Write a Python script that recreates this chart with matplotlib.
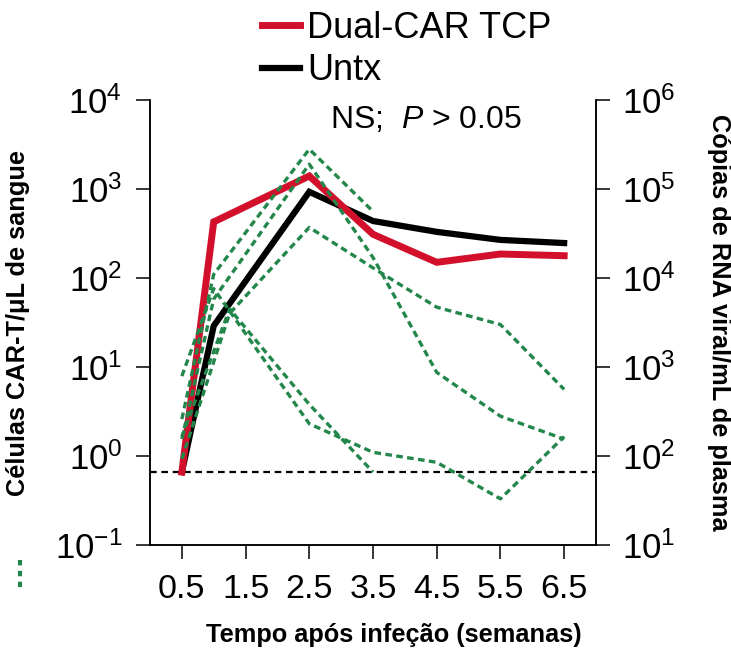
import matplotlib.pyplot as plt
from matplotlib.lines import Line2D

# === CONFIG ===
OUT_FILE = "out.png"
RED = "#d2102c"
GREEN = "#23874b"

plt.rcParams["font.family"] = ["Liberation Sans", "DejaVu Sans"]
plt.rcParams["mathtext.fontset"] = "custom"
plt.rcParams["mathtext.rm"] = "Liberation Sans"
plt.rcParams["mathtext.it"] = "Liberation Sans:italic"
plt.rcParams["mathtext.bf"] = "Liberation Sans:bold"

# ------------------------------
# Data
# ------------------------------
weeks = [0.5, 1.0, 2.5, 3.5, 4.5, 5.5, 6.5]
dual_car = [0.66, 427, 1400, 310, 150, 186, 178]
untx = [0.66, 29, 930, 437, 330, 268, 247]
detection_limit = 0.66

# viral load per animal (copias/mL, right axis)
vl_weeks_1 = [0.5, 1.0, 2.5, 3.5]
vl_animal_1 = [260, 11000, 280000, 56000]
vl_weeks_2 = [0.5, 1.0, 2.5, 3.5, 4.5, 5.5, 6.5]
vl_animal_2 = [155, 5800, 190000, 17000, 870, 280, 155]
vl_weeks_3 = [0.5, 1.25, 2.5, 3.5, 4.5, 5.5, 6.5]
vl_animal_3 = [93, 4000, 37000, 13000, 4700, 3000, 560]
vl_weeks_4 = [0.5, 1.0, 2.5, 3.5, 4.5, 5.5, 6.5]
vl_animal_4 = [790, 7600, 230, 110, 85, 33, 165]
vl_weeks_5 = [0.5, 1.25, 2.5, 3.5]
vl_animal_5 = [165, 4500, 380, 66]

xticks = [0.5, 1.5, 2.5, 3.5, 4.5, 5.5, 6.5]

# ------------------------------
# Figure
# ------------------------------
fig = plt.figure(figsize=(7.31, 6.49), dpi=100)
ax = fig.add_axes([150 / 731, 104 / 649, 446 / 731, 445 / 649])
ax2 = ax.twinx()

ax.axhline(detection_limit, color="black", lw=1.6, dashes=(3, 2.1))
ax.plot(weeks, untx, color="black", lw=4.5, solid_joinstyle="miter")
ax.plot(weeks, dual_car, color=RED, lw=5, solid_joinstyle="miter")

vl_series = [
    (vl_weeks_1, vl_animal_1),
    (vl_weeks_2, vl_animal_2),
    (vl_weeks_3, vl_animal_3),
    (vl_weeks_4, vl_animal_4),
    (vl_weeks_5, vl_animal_5),
]
for w, v in vl_series:
    ax2.plot(w, v, color=GREEN, lw=2.4, dashes=(2, 1.3))

for a in (ax, ax2):
    a.set_yscale("log")
    a.set_xlim(0, 7)
    a.spines["top"].set_visible(False)
    for s in a.spines.values():
        s.set_linewidth(1.1)
    a.minorticks_off()
    a.tick_params(axis="both", which="major", length=10, width=1.1,
                  direction="out")

ax.set_ylim(0.1, 1e4)
ax.set_yticks([0.1, 1, 10, 100, 1000, 10000])
ax.set_yticklabels([r"$10^{-1}$", r"$10^{0}$", r"$10^{1}$", r"$10^{2}$",
                    r"$10^{3}$", r"$10^{4}$"])
ax.tick_params(axis="y", pad=10, labelsize=25)
ax.set_xticks(xticks)
ax.set_xticklabels([str(t) for t in xticks])
ax.tick_params(axis="x", pad=11, labelsize=24.5)

ax2.set_ylim(10, 1e6)
ax2.set_yticks([10, 100, 1000, 10000, 100000, 1000000])
ax2.set_yticklabels([r"$10^{1}$", r"$10^{2}$", r"$10^{3}$", r"$10^{4}$",
                     r"$10^{5}$", r"$10^{6}$"])
ax2.tick_params(axis="y", pad=9, labelsize=25)
ax2.minorticks_off()

ax.set_xlabel("Tempo após infeção (semanas)", fontsize=18.3, fontweight="bold")
ax.xaxis.set_label_coords(0.547, -0.175)
ax.set_ylabel("Células CAR-T/μL de sangue", fontsize=18.3, fontweight="bold")
ax.yaxis.set_label_coords(-0.27, 0.5)
ax2.set_ylabel("Cópias de RNA viral/mL de plasma", fontsize=18.3,
               fontweight="bold", rotation=270, va="center")
ax2.yaxis.set_label_coords(1.275, 0.5)

ax.text(0.404, 0.955, r"NS;  $\mathit{P}$ > 0.05", transform=ax.transAxes,
        fontsize=23, ha="left", va="center")

# legend
handles = [Line2D([], [], color=RED, lw=5), Line2D([], [], color="black", lw=4.5)]
fig.legend(handles, ["Dual-CAR TCP", "Untx"], loc="upper left",
           bbox_to_anchor=(262 / 731, 1 - 11 / 649), frameon=False, fontsize=26,
           handlelength=1.05, handletextpad=0.2, labelspacing=0.2,
           borderpad=0.0, borderaxespad=0)

# cropped legend entry for the viral load lines
fig.add_artist(Line2D([20 / 731, 20 / 731], [1 - 560 / 649, 1 - 592 / 649],
                      color=GREEN, lw=3, dashes=(1.3, 1.3)))

fig.savefig(OUT_FILE, dpi=100)
plt.close()
print("saved", OUT_FILE)
